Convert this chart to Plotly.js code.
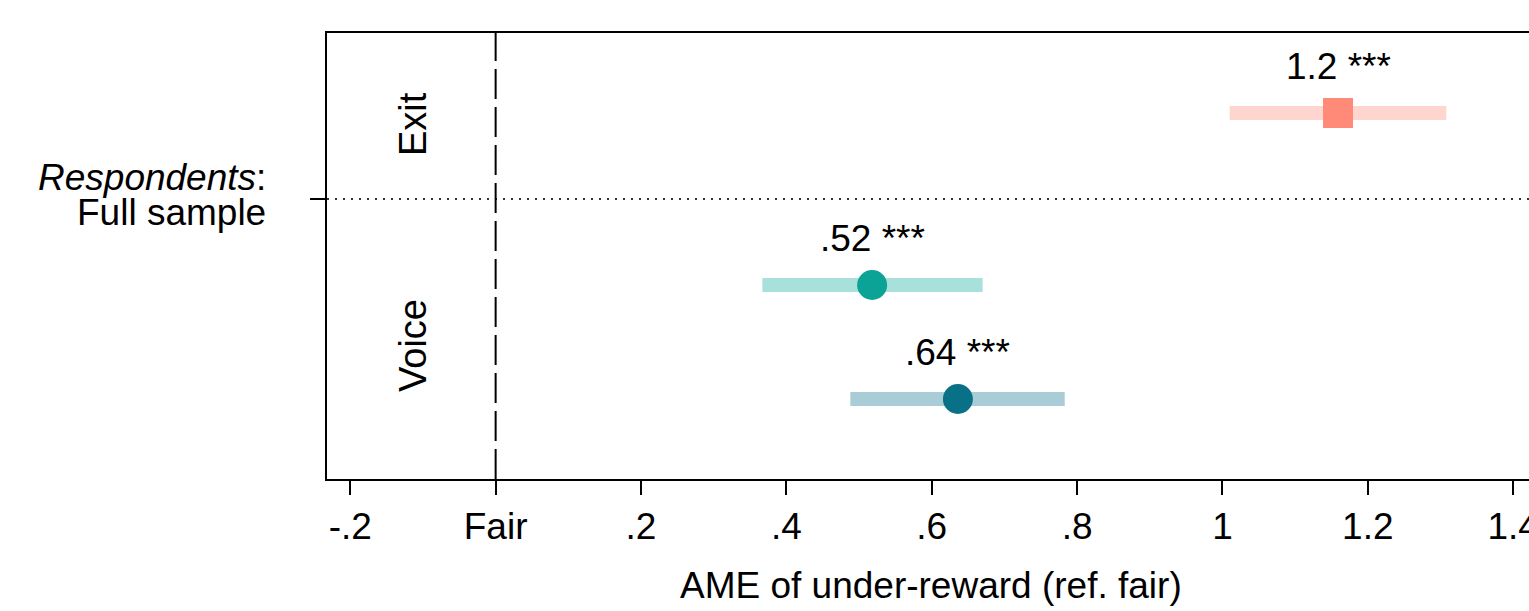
<!DOCTYPE html>
<html>
<head>
<meta charset="utf-8">
<script src="https://cdn.plot.ly/plotly-3.0.1.min.js"></script>
<style>
  html, body { margin: 0; padding: 0; overflow: hidden; background: #fff; }
  #chart { width: 1545px; height: 611px; }
</style>
</head>
<body>
<div id="chart"></div>
<script>
// Average marginal effects of under-reward (reference: fair), full sample
const outcomes   = ['Exit', 'Voice', 'Voice'];
const estimates  = [1.159, 0.518, 0.636];
const ciLower    = [1.010, 0.367, 0.488];
const ciUpper    = [1.308, 0.670, 0.783];
const stars      = ['***', '***', '***'];

const xTickVals  = [-0.2, 0, 0.2, 0.4, 0.6, 0.8, 1, 1.2, 1.4];
const xTickText  = ['-.2', 'Fair', '.2', '.4', '.6', '.8', '1', '1.2', '1.4'];

// styling per row
const barColors    = ['#FFD6CF', '#A8E0DB', '#A9CDD6'];
const markerColors = ['#FF8A78', '#0AA396', '#087087'];
const markerShapes = ['square', 'circle', 'circle'];

// vertical layout of rows (axis units, top = 0)
const rowPos   = [80, 252, 366];
const dividerY = 166;
const groupLabelPos = { Exit: 91, Voice: 313 };

const FONT = 'Liberation Sans, Arial, Helvetica, sans-serif';
const FS = 37;

// Stata-style %9.2g: two significant digits, no leading zero
function fmt(v) {
  let s = Number(v.toPrecision(2)).toString();
  return s.replace(/^0\./, '.').replace(/^-0\./, '-.');
}

const traces = estimates.map((est, i) => ({
  type: 'scatter',
  mode: 'markers',
  x: [est],
  y: [rowPos[i]],
  marker: {
    symbol: markerShapes[i],
    size: 30,
    color: markerColors[i],
    line: { width: 0 }
  },
  error_x: {
    type: 'data',
    symmetric: false,
    array: [ciUpper[i] - est],
    arrayminus: [est - ciLower[i]],
    color: barColors[i],
    thickness: 14,
    width: 0
  },
  showlegend: false,
  hoverinfo: 'skip',
  cliponaxis: false
}));

const annotations = [];

estimates.forEach((est, i) => {
  annotations.push({
    xref: 'x', yref: 'y', x: est, y: rowPos[i],
    text: fmt(est) + ' ' + stars[i],
    showarrow: false, xanchor: 'center', yanchor: 'middle',
    yshift: 47,
    font: { family: FONT, size: FS, color: '#000' }
  });
});

Object.keys(groupLabelPos).forEach(name => {
  annotations.push({
    xref: 'paper', yref: 'y', x: 0, y: groupLabelPos[name],
    xshift: 86, text: name, textangle: -90,
    showarrow: false, xanchor: 'center', yanchor: 'middle',
    font: { family: FONT, size: FS + 1, color: '#000' }
  });
});

// sample label beside the y tick
annotations.push({
  xref: 'paper', yref: 'y', x: 0, y: 144, xshift: -59,
  text: '<i>Respondents</i>:', showarrow: false,
  xanchor: 'right', yanchor: 'middle',
  font: { family: FONT, size: FS, color: '#000' }
});
annotations.push({
  xref: 'paper', yref: 'y', x: 0, y: 179, xshift: -59,
  text: 'Full sample', showarrow: false,
  xanchor: 'right', yanchor: 'middle',
  font: { family: FONT, size: FS, color: '#000' }
});

// x axis title
annotations.push({
  xref: 'paper', yref: 'paper', x: 0.5, y: 0, yshift: -106,
  text: 'AME of under-reward (ref. fair)', showarrow: false,
  xanchor: 'center', yanchor: 'middle',
  font: { family: FONT, size: FS, color: '#000' }
});

const layout = {
  width: 1545,
  height: 611,
  margin: { l: 327, r: 10, t: 33, b: 132, pad: 0 },
  paper_bgcolor: '#fff',
  plot_bgcolor: '#fff',
  font: { family: FONT, size: FS, color: '#000' },
  xaxis: {
    range: [-0.232, 1.430],
    tickvals: xTickVals,
    ticktext: xTickText,
    ticks: 'outside',
    ticklen: 14,
    tickwidth: 2,
    tickcolor: '#000',
    showline: true,
    linecolor: '#000',
    linewidth: 2,
    mirror: true,
    showgrid: false,
    zeroline: false,
    tickfont: { family: FONT, size: FS, color: '#000' },
    fixedrange: true
  },
  yaxis: {
    range: [446, 0],
    tickvals: [dividerY],
    ticktext: [''],
    ticks: 'outside',
    ticklen: 15,
    tickwidth: 2,
    tickcolor: '#000',
    showline: true,
    linecolor: '#000',
    linewidth: 2,
    mirror: true,
    showgrid: false,
    zeroline: false,
    fixedrange: true
  },
  shapes: [
    { type: 'line', xref: 'x', yref: 'paper', x0: 0, x1: 0, y0: 0, y1: 1,
      line: { color: '#000', width: 2, dash: '30px,8px' }, layer: 'above' },
    { type: 'line', xref: 'paper', yref: 'y', x0: 0, x1: 1, y0: dividerY, y1: dividerY,
      line: { color: '#333', width: 2, dash: '2px,6px' }, layer: 'below' }
  ],
  annotations: annotations,
  showlegend: false
};

Plotly.newPlot('chart', traces, layout, { displayModeBar: false, staticPlot: true });
</script>
</body>
</html>
